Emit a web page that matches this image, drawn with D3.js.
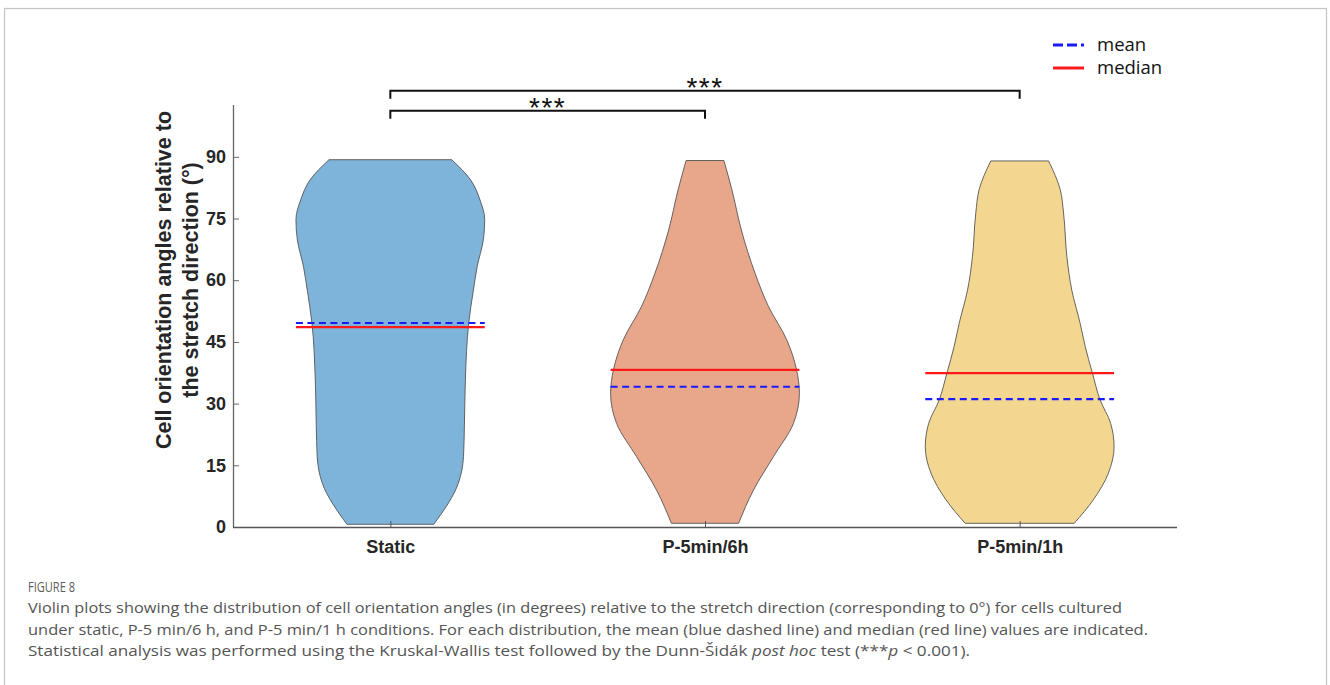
<!DOCTYPE html>
<html>
<head>
<meta charset="utf-8">
<script src="https://cdn.jsdelivr.net/npm/d3@7"></script>
<style>
  html, body { margin: 0; padding: 0; background: #fff; }
  svg { display: block; }
</style>
</head>
<body>
<svg id="chart" width="1330" height="685"></svg>
<script>
// ---------- data ----------
const categories = ["Static", "P-5min/6h", "P-5min/1h"];
const meanValues = [49.6, 34.1, 31.1];
const medianValues = [48.6, 38.2, 37.4];
const yTickValues = [0, 15, 30, 45, 60, 75, 90];

// violin outlines: angle (deg) and relative density (1 = widest point)
const staticAngle   = [0.65, 10.6, 17.1, 25.0, 35.8, 49.5, 57.6, 63.3, 69.8, 74.7, 79.5, 84.4, 89.3];
const staticDensity = [0.46, 0.72, 0.775, 0.785, 0.795, 0.83, 0.88, 0.92, 0.985, 1.0, 0.95, 0.85, 0.65];

const p6hAngle   = [0.9, 9.0, 17.1, 25.2, 32.5, 38.2, 45.5, 53.6, 61.7, 72.2, 82.0, 89.1];
const p6hDensity = [0.356, 0.514, 0.725, 0.937, 1.0, 0.97, 0.866, 0.673, 0.53, 0.385, 0.285, 0.2];

const p1hAngle   = [0.9, 6.6, 13.1, 19.5, 25.2, 30.9, 37.4, 43.9, 49.5, 57.6, 65.7, 76.3, 82.0, 89.0];
const p1hDensity = [0.578, 0.78, 0.94, 1.0, 0.964, 0.852, 0.771, 0.694, 0.641, 0.552, 0.5, 0.465, 0.43, 0.306];

const violinAngles = [staticAngle, p6hAngle, p1hAngle];
const violinDensities = [staticDensity, p6hDensity, p1hDensity];
const violinColors = ["#7eb3da", "#e8a78b", "#f3d68f"];

const comparisons = [
  { from: 0, to: 2, label: "***", level: 1 },
  { from: 0, to: 1, label: "***", level: 0 }
];

const captionTitle = "FIGURE 8";
const captionLines = [
  "Violin plots showing the distribution of cell orientation angles (in degrees) relative to the stretch direction (corresponding to 0°) for cells cultured",
  "under static, P-5 min/6 h, and P-5 min/1 h conditions. For each distribution, the mean (blue dashed line) and median (red line) values are indicated."
];

// ---------- layout ----------
const svg = d3.select("#chart");
const plotLeft = 233, plotRight = 1177, plotTop = 105, plotBottom = 527;
const halfWidthUnits = 0.3;

const x = d3.scaleLinear().domain([0.5, 3.5]).range([plotLeft, plotRight]);
const y = d3.scaleLinear().domain([0, 102.6]).range([plotBottom, plotTop]);
const unit = x(1) - x(0);

const chartFont = "'Liberation Sans', Arial, sans-serif";

// figure frame
svg.append("rect")
  .attr("x", 4.5).attr("y", 8.5).attr("width", 1322).attr("height", 720)
  .attr("fill", "none").attr("stroke", "#c4c4c4").attr("stroke-width", 1.2);

// ---------- violins ----------
const gV = svg.append("g");
categories.forEach((c, i) => {
  const cx = x(i + 1);
  const pts = violinAngles[i].map((a, k) => ({ a, d: violinDensities[i][k] }));
  const area = d3.area()
    .y(d => y(d.a))
    .x0(d => cx - d.d * halfWidthUnits * unit)
    .x1(d => cx + d.d * halfWidthUnits * unit)
    .curve(d3.curveMonotoneY);
  gV.append("path")
    .datum(pts)
    .attr("d", area)
    .attr("fill", violinColors[i])
    .attr("stroke", "#555")
    .attr("stroke-width", 0.9);
});

// ---------- axes ----------
const yAxis = d3.axisLeft(y).tickValues(yTickValues).tickSizeInner(-6).tickSizeOuter(0).tickPadding(7);
const gy = svg.append("g").attr("transform", `translate(${plotLeft},0)`).call(yAxis);
gy.select(".domain").attr("stroke", "#666").attr("stroke-width", 1.3)
  .attr("d", `M0.5,${plotTop}V${plotBottom}`);
gy.selectAll(".tick line").attr("stroke", "#666").attr("stroke-width", 1);
gy.selectAll(".tick text")
  .attr("font-family", chartFont).attr("font-weight", "bold").attr("font-size", 18).attr("fill", "#262626");

const xAxis = d3.axisBottom(x).tickValues([1, 2, 3]).tickFormat((d) => categories[d - 1])
  .tickSizeInner(-6).tickSizeOuter(0).tickPadding(13);
const gx = svg.append("g").attr("transform", `translate(0,${plotBottom})`).call(xAxis);
gx.select(".domain").attr("stroke", "#555").attr("stroke-width", 1.3)
  .attr("d", `M${plotLeft},0.5H${plotRight}`);
gx.selectAll(".tick line").attr("stroke", "#555").attr("stroke-width", 1);
gx.selectAll(".tick text")
  .attr("font-family", chartFont).attr("font-weight", "bold").attr("font-size", 18).attr("fill", "#262626");

// y label
const yLabel = svg.append("text")
  .attr("transform", `translate(171,280) rotate(-90)`)
  .attr("text-anchor", "middle")
  .attr("font-family", chartFont).attr("font-weight", "bold").attr("font-size", 21.5).attr("fill", "#262626");
yLabel.append("tspan").attr("x", 0).attr("y", 0).text("Cell orientation angles relative to");
yLabel.append("tspan").attr("x", 0).attr("y", 27).text("the stretch direction (°)");

// ---------- mean / median lines ----------
const gL = svg.append("g");
categories.forEach((c, i) => {
  const x0 = x(i + 1 - halfWidthUnits), x1 = x(i + 1 + halfWidthUnits);
  gL.append("line").attr("x1", x0).attr("x2", x1)
    .attr("y1", y(medianValues[i])).attr("y2", y(medianValues[i]))
    .attr("stroke", "#ff1a1a").attr("stroke-width", 2.2);
  gL.append("line").attr("x1", x0).attr("x2", x1)
    .attr("y1", y(meanValues[i])).attr("y2", y(meanValues[i]))
    .attr("stroke", "#1a1aff").attr("stroke-width", 2.2).attr("stroke-dasharray", "7,4.5");
});

// ---------- significance brackets ----------
const bracketY = [110.7, 90.7];
const gB = svg.append("g");
comparisons.forEach(cmp => {
  const by = bracketY[cmp.level];
  const xa = x(cmp.from + 1), xb = x(cmp.to + 1);
  gB.append("path")
    .attr("d", `M${xa},${by + 8}V${by}H${xb}V${by + 8}`)
    .attr("fill", "none").attr("stroke", "#111").attr("stroke-width", 2).attr("stroke-linejoin", "miter");
  gB.append("text")
    .attr("x", (xa + xb) / 2).attr("y", by + 6.5)
    .attr("text-anchor", "middle")
    .attr("font-family", chartFont).attr("font-size", 28).attr("letter-spacing", 1.5)
    .attr("fill", "#111").text(cmp.label);
});

// ---------- legend ----------
const legendItems = [
  { label: "mean", color: "#1a1aff", dash: "10,4", y: 45 },
  { label: "median", color: "#ff1a1a", dash: null, y: 68 }
];
const gLeg = svg.append("g");
legendItems.forEach(it => {
  gLeg.append("line").attr("x1", 1053).attr("x2", 1084).attr("y1", it.y).attr("y2", it.y)
    .attr("stroke", it.color).attr("stroke-width", 3)
    .attr("stroke-dasharray", it.dash);
  gLeg.append("text").attr("x", 1097).attr("y", it.y + 6)
    .attr("font-family", "'Open Sans', sans-serif").attr("font-size", 18.5).attr("fill", "#111")
    .text(it.label);
});

// ---------- caption ----------
const capFont = "'Open Sans', 'Noto Sans', sans-serif";
svg.append("text").attr("x", 28).attr("y", 592)
  .attr("font-family", capFont).attr("font-size", 14.5).attr("fill", "#5e5e5e")
  .attr("textLength", 47).attr("lengthAdjust", "spacingAndGlyphs")
  .text(captionTitle);
const capWidths = [1094, 1120];
captionLines.forEach((t, i) => {
  svg.append("text").attr("x", 28).attr("y", 613 + i * 21.5)
    .attr("font-family", capFont).attr("font-size", 15).attr("fill", "#555")
    .attr("textLength", capWidths[i]).attr("lengthAdjust", "spacingAndGlyphs")
    .text(t);
});
const l3 = svg.append("text").attr("x", 28).attr("y", 656)
  .attr("font-family", capFont).attr("font-size", 15).attr("fill", "#555")
  .attr("textLength", 942).attr("lengthAdjust", "spacingAndGlyphs");
l3.append("tspan").text("Statistical analysis was performed using the Kruskal-Wallis test followed by the Dunn-Šidák ");
l3.append("tspan").attr("font-style", "italic").text("post hoc");
l3.append("tspan").text(" test (***");
l3.append("tspan").attr("font-style", "italic").text("p");
l3.append("tspan").text(" < 0.001).");
</script>
</body>
</html>
